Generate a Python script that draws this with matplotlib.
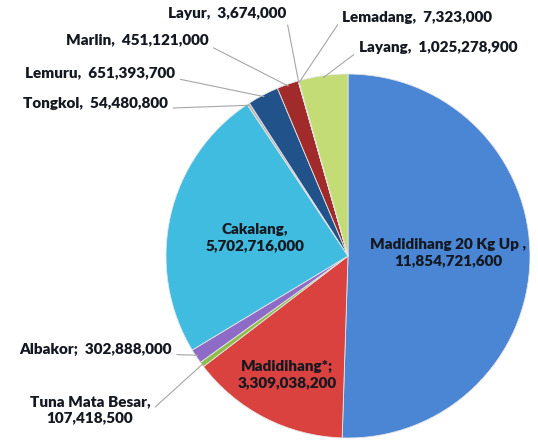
import matplotlib
matplotlib.use('agg')
import matplotlib.pyplot as plt
import numpy as np

names = ['Madidihang 20 Kg Up ', 'Madidihang*', 'Tuna Mata Besar', 'Albakor', 'Cakalang',
         'Tongkol', 'Lemuru', 'Marlin', 'Layur', 'Lemadang', 'Layang']
values = [11854721600, 3309038200, 107418500, 302888000, 5702716000,
          54480800, 651393700, 451121000, 3674000, 7323000, 1025278900]
separators = [',\n', ';\n', ',\n', ';  ', ',\n', ',  ', ',  ', ',  ', ',  ', ',  ', ',  ']
colors = ['#4A86D4', '#D9423F', '#8DBE4A', '#8E6BC6', '#3FBCE0',
          '#B5B5B5', '#22528A', '#A12A2A', '#7A4FA0', '#2E8FB0', '#C4DC76']

# label centre (x, y) in pixels from the top-left
label_pos = [(448, 253), (287, 375), (90, 410), (95, 349), (255, 238),
             (95, 103), (100, 73), (137, 40), (227, 13), (417, 17), (438, 47)]
# where the leader line leaves the text (relative position on text box)
rel_pos = [None, None, (1.0, 0.45), (0.97, 0.1), None,
           (1.0, 0.1), (1.0, 0.1), (1.0, 0.1), (1.0, 0.2), (0.0, 0.4), (0.0, 0.2)]
inside = [True, True, False, False, True, False, False, False, False, False, False]

W, H = 538, 448
fig = plt.figure(figsize=(W / 100, H / 100), dpi=100)
cx, cy, r = 348, 256, 182
ax = fig.add_axes([(cx - r) / W, (H - cy - r) / H, 2 * r / W, 2 * r / H])

wedges, _ = ax.pie(values, colors=colors, startangle=90, counterclock=False,
                   radius=1, wedgeprops=dict(edgecolor='#E6E6E6', linewidth=0.6))
ax.set_xlim(-1, 1)
ax.set_ylim(-1, 1)
ax.set_aspect('equal')
ax.axis('off')

font = dict(family=['Lato', 'DejaVu Sans'], fontweight='heavy', fontsize=11, color='#141820')

for i, w in enumerate(wedges):
    label = f'{names[i]}{separators[i]}{values[i]:,}'
    px, py = label_pos[i]
    if inside[i]:
        fig.text(px / W, 1 - py / H, label, ha='center', va='center',
                 multialignment='center', linespacing=1.3, **font)
        continue
    mid = np.deg2rad((w.theta1 + w.theta2) / 2)
    xy = (0.99 * np.cos(mid), 0.99 * np.sin(mid))
    ax.annotate(label, xy=xy, xycoords='data',
                xytext=(px / W, 1 - py / H), textcoords='figure fraction',
                ha='center', va='center', multialignment='center', linespacing=1.3,
                arrowprops=dict(arrowstyle='-', color='#A6A6A6', lw=0.8,
                                relpos=rel_pos[i], shrinkA=2, shrinkB=0),
                annotation_clip=False, **font)

fig.savefig('out.png', dpi=100)
plt.close(fig)
